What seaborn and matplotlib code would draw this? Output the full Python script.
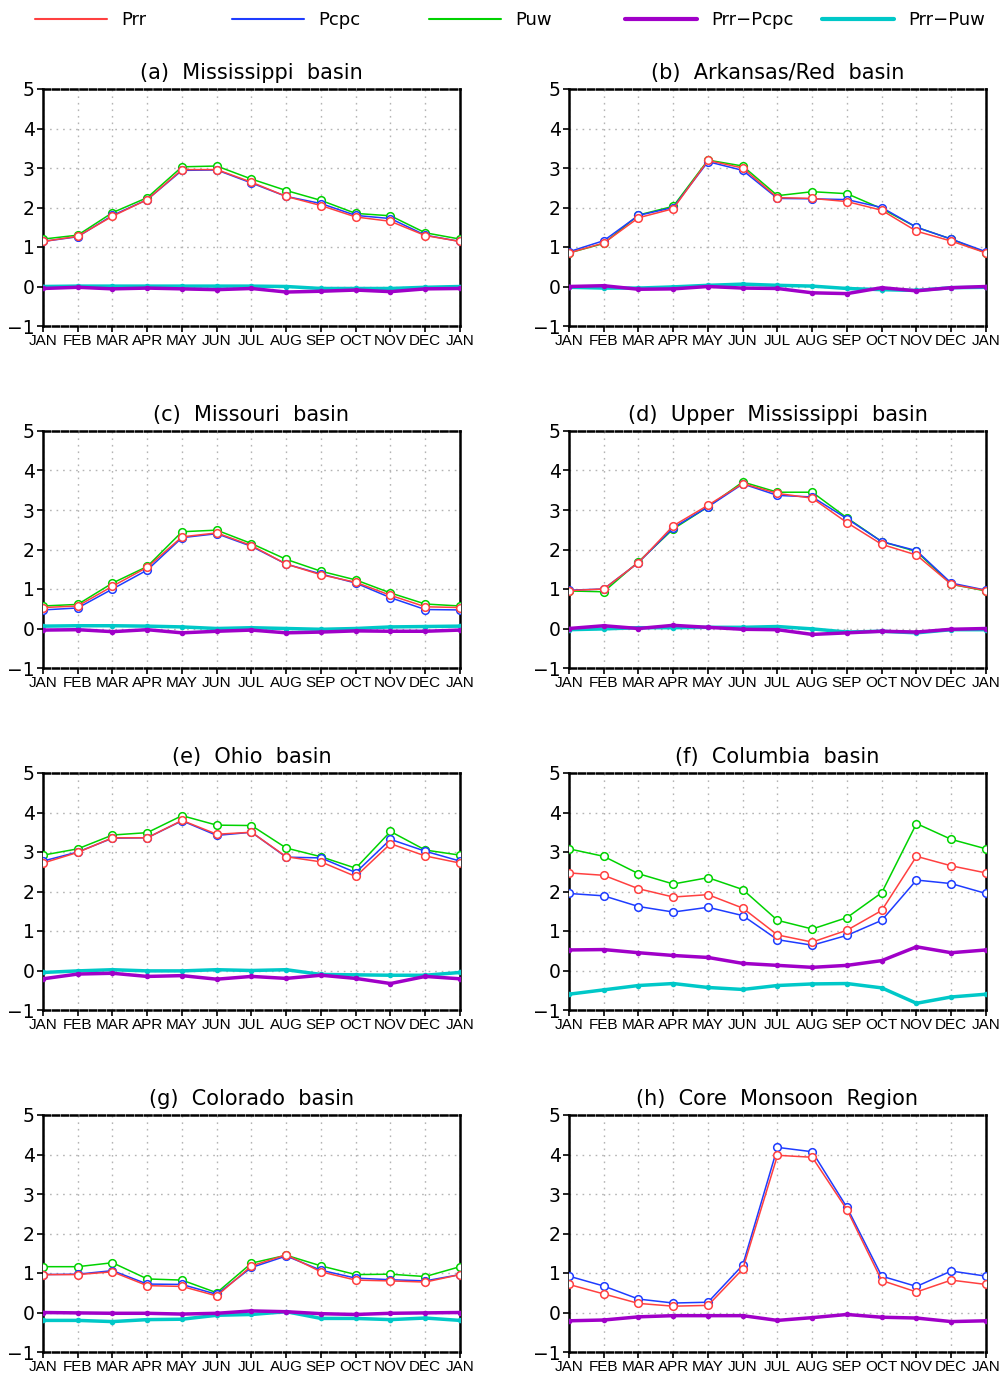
import numpy as np
import pandas as pd
import matplotlib
matplotlib.use("Agg")
import matplotlib.pyplot as plt
from matplotlib.lines import Line2D
import seaborn as sns

sns.set_style("white")
plt.rcParams['font.family'] = ['DejaVu Sans']
plt.rcParams['text.color'] = 'black'
plt.rcParams['xtick.color'] = 'black'
plt.rcParams['ytick.color'] = 'black'
plt.rcParams['axes.labelcolor'] = 'black'

months = ["JAN", "FEB", "MAR", "APR", "MAY", "JUN", "JUL", "AUG", "SEP", "OCT", "NOV", "DEC", "JAN"]

titles = ["(a)  Mississippi  basin", "(b)  Arkansas/Red  basin", "(c)  Missouri  basin",
          "(d)  Upper  Mississippi  basin", "(e)  Ohio  basin", "(f)  Columbia  basin",
          "(g)  Colorado  basin", "(h)  Core  Monsoon  Region"]

# (a) Mississippi
a_prr  = [1.14, 1.27, 1.78, 2.20, 2.96, 2.96, 2.64, 2.28, 2.05, 1.76, 1.65, 1.29, 1.14]
a_pcpc = [1.14, 1.26, 1.80, 2.20, 2.94, 2.95, 2.62, 2.28, 2.10, 1.80, 1.72, 1.30, 1.14]
a_puw  = [1.20, 1.30, 1.87, 2.25, 3.03, 3.05, 2.72, 2.43, 2.18, 1.85, 1.79, 1.36, 1.20]
a_dp   = [-0.05, -0.02, -0.06, -0.04, -0.06, -0.08, -0.05, -0.14, -0.12, -0.09, -0.13, -0.06, -0.05]
a_du   = [0.00, 0.01, 0.01, 0.01, 0.01, 0.01, 0.01, 0.00, -0.05, -0.05, -0.05, -0.02, 0.00]

# (b) Arkansas/Red
b_prr  = [0.85, 1.10, 1.74, 1.97, 3.19, 3.00, 2.25, 2.23, 2.15, 1.93, 1.40, 1.15, 0.85]
b_pcpc = [0.88, 1.16, 1.80, 2.00, 3.16, 2.94, 2.23, 2.22, 2.20, 2.00, 1.50, 1.20, 0.88]
b_puw  = [0.85, 1.09, 1.81, 2.03, 3.20, 3.05, 2.30, 2.40, 2.35, 1.97, 1.50, 1.20, 0.85]
b_dp   = [0.00, 0.02, -0.07, -0.06, 0.00, -0.04, -0.05, -0.16, -0.18, -0.03, -0.11, -0.03, 0.00]
b_du   = [-0.02, -0.04, -0.04, -0.01, 0.03, 0.06, 0.03, 0.01, -0.05, -0.08, -0.10, -0.03, -0.02]

# (c) Missouri
c_prr  = [0.53, 0.57, 1.07, 1.55, 2.32, 2.42, 2.10, 1.63, 1.36, 1.17, 0.84, 0.55, 0.53]
c_pcpc = [0.47, 0.52, 1.00, 1.48, 2.30, 2.40, 2.08, 1.63, 1.38, 1.15, 0.78, 0.48, 0.47]
c_puw  = [0.57, 0.61, 1.15, 1.57, 2.45, 2.49, 2.15, 1.75, 1.45, 1.23, 0.90, 0.62, 0.57]
c_dp   = [-0.04, -0.03, -0.08, -0.03, -0.11, -0.07, -0.04, -0.11, -0.09, -0.06, -0.07, -0.07, -0.04]
c_du   = [0.06, 0.07, 0.07, 0.06, 0.04, 0.00, 0.02, 0.00, -0.02, 0.00, 0.04, 0.05, 0.06]

# (d) Upper Mississippi
d_prr  = [0.96, 1.00, 1.67, 2.60, 3.12, 3.67, 3.42, 3.30, 2.68, 2.13, 1.86, 1.12, 0.96]
d_pcpc = [0.97, 1.00, 1.67, 2.55, 3.08, 3.66, 3.37, 3.33, 2.78, 2.20, 1.97, 1.15, 0.97]
d_puw  = [0.95, 0.93, 1.69, 2.52, 3.08, 3.71, 3.45, 3.45, 2.80, 2.20, 1.95, 1.12, 0.95]
d_dp   = [0.00, 0.07, 0.00, 0.08, 0.03, -0.02, -0.03, -0.15, -0.11, -0.07, -0.09, -0.02, 0.00]
d_du   = [-0.03, -0.01, 0.02, 0.02, 0.03, 0.03, 0.05, -0.01, -0.09, -0.07, -0.11, -0.03, -0.03]

# (e) Ohio
e_prr  = [2.72, 2.99, 3.36, 3.36, 3.80, 3.45, 3.50, 2.88, 2.75, 2.38, 3.21, 2.90, 2.72]
e_pcpc = [2.77, 3.00, 3.35, 3.36, 3.79, 3.42, 3.50, 2.87, 2.85, 2.48, 3.32, 3.02, 2.77]
e_puw  = [2.92, 3.08, 3.43, 3.49, 3.92, 3.68, 3.67, 3.10, 2.88, 2.59, 3.52, 3.05, 2.92]
e_dp   = [-0.21, -0.09, -0.07, -0.15, -0.13, -0.22, -0.15, -0.20, -0.12, -0.20, -0.33, -0.15, -0.21]
e_du   = [-0.05, -0.01, 0.02, -0.01, -0.01, 0.02, 0.00, 0.02, -0.10, -0.11, -0.12, -0.12, -0.05]

# (f) Columbia
f_prr  = [2.47, 2.41, 2.07, 1.86, 1.92, 1.58, 0.90, 0.72, 1.02, 1.52, 2.89, 2.65, 2.47]
f_pcpc = [1.95, 1.89, 1.62, 1.48, 1.60, 1.39, 0.78, 0.64, 0.89, 1.27, 2.29, 2.20, 1.95]
f_puw  = [3.08, 2.89, 2.45, 2.19, 2.35, 2.05, 1.27, 1.05, 1.34, 1.97, 3.72, 3.32, 3.08]
f_dp   = [0.52, 0.53, 0.45, 0.38, 0.33, 0.18, 0.13, 0.08, 0.13, 0.25, 0.60, 0.45, 0.52]
f_du   = [-0.60, -0.49, -0.38, -0.33, -0.43, -0.48, -0.38, -0.34, -0.33, -0.44, -0.83, -0.67, -0.60]

# (g) Colorado
g_prr  = [0.96, 0.96, 1.03, 0.68, 0.66, 0.42, 1.18, 1.46, 1.03, 0.82, 0.80, 0.77, 0.96]
g_pcpc = [0.96, 0.97, 1.06, 0.72, 0.71, 0.46, 1.14, 1.43, 1.07, 0.87, 0.83, 0.80, 0.96]
g_puw  = [1.16, 1.16, 1.26, 0.85, 0.82, 0.50, 1.25, 1.45, 1.18, 0.96, 0.97, 0.91, 1.16]
g_dp   = [0.00, -0.01, -0.02, -0.02, -0.04, -0.02, 0.04, 0.02, -0.03, -0.05, -0.02, -0.01, 0.00]
g_du   = [-0.20, -0.20, -0.23, -0.18, -0.17, -0.07, -0.05, 0.02, -0.15, -0.15, -0.18, -0.14, -0.20]

# (h) Core Monsoon Region (no Puw)
h_prr  = [0.71, 0.47, 0.23, 0.16, 0.18, 1.10, 3.98, 3.93, 2.60, 0.81, 0.52, 0.82, 0.71]
h_pcpc = [0.92, 0.67, 0.34, 0.24, 0.26, 1.20, 4.18, 4.07, 2.66, 0.92, 0.66, 1.05, 0.92]
h_dp   = [-0.21, -0.19, -0.11, -0.08, -0.08, -0.08, -0.20, -0.13, -0.05, -0.12, -0.14, -0.23, -0.21]

panels = [
    dict(prr=a_prr, pcpc=a_pcpc, puw=a_puw, dp=a_dp, du=a_du),
    dict(prr=b_prr, pcpc=b_pcpc, puw=b_puw, dp=b_dp, du=b_du),
    dict(prr=c_prr, pcpc=c_pcpc, puw=c_puw, dp=c_dp, du=c_du),
    dict(prr=d_prr, pcpc=d_pcpc, puw=d_puw, dp=d_dp, du=d_du),
    dict(prr=e_prr, pcpc=e_pcpc, puw=e_puw, dp=e_dp, du=e_du),
    dict(prr=f_prr, pcpc=f_pcpc, puw=f_puw, dp=f_dp, du=f_du),
    dict(prr=g_prr, pcpc=g_pcpc, puw=g_puw, dp=g_dp, du=g_du),
    dict(prr=h_prr, pcpc=h_pcpc, dp=h_dp),
]

COL = {"prr": "#ff4040", "pcpc": "#1e3cff", "puw": "#00d200",
       "dp": "#a000c8", "du": "#00c8c8"}
LABEL = {"prr": "Prr", "pcpc": "Pcpc", "puw": "Puw", "dp": "Prr\u2212Pcpc", "du": "Prr\u2212Puw"}

fig = plt.figure(figsize=(10.03, 13.76), dpi=100)
W, H = 1003.0, 1376.0
lefts = [43, 569]
tops = [89, 431, 773, 1115]
aw, ah = 417, 237

x = np.arange(len(months))
for i, p in enumerate(panels):
    r, c = divmod(i, 2)
    ax = fig.add_axes([lefts[c] / W, 1 - (tops[r] + ah) / H, aw / W, ah / H])
    ax.grid(True, color="#b4b4b4", linestyle=(0, (1.2, 3.5)), linewidth=1.0)
    ax.set_axisbelow(True)
    for key in ["du", "dp"]:
        if key in p:
            sns.lineplot(x=x, y=p[key], ax=ax, color=COL[key], linewidth=2.5,
                         marker="o", markersize=4, markeredgewidth=0,
                         markerfacecolor=COL[key], zorder=3)
    for key in ["puw", "pcpc", "prr"]:
        if key in p:
            sns.lineplot(x=x, y=p[key], ax=ax, color=COL[key], linewidth=1.1,
                         marker="o", markersize=5.5, markerfacecolor="white",
                         markeredgecolor=COL[key], markeredgewidth=1.1, zorder=4)
    ax.set_xlim(0, 12)
    ax.set_ylim(-1, 5)
    ax.set_xticks(x)
    ax.set_xticklabels(months, fontfamily=["Liberation Sans", "DejaVu Sans"], fontsize=11)
    ax.set_yticks(range(-1, 6))
    ax.set_yticklabels(["\u22121", "0", "1", "2", "3", "4", "5"], fontsize=13.5)
    ax.tick_params(axis="both", direction="out", length=4, width=1.2, color="black",
                   pad=2, bottom=True, left=True)
    for s in ["left", "right", "top", "bottom"]:
        ax.spines[s].set_linewidth(1.8)
        ax.spines[s].set_color("black")
    for s in ["top", "bottom"]:
        ax.spines[s].set_linestyle((0, (2.5, 1.2)))
    ax.set_xlabel("")
    ax.set_ylabel("")
    ax.set_title(titles[i], fontsize=15, pad=7, color="black")

starts = [35, 232, 429, 625, 822]
for key, sx in zip(["prr", "pcpc", "puw", "dp", "du"], starts):
    lw = 3.0 if key in ("dp", "du") else 1.5
    h = Line2D([], [], color=COL[key], linewidth=lw)
    fig.legend(handles=[h], labels=[LABEL[key]], loc="center left",
               bbox_to_anchor=(sx / W, 1 - 20 / H), frameon=False,
               handlelength=4.0, handletextpad=0.75, borderpad=0,
               borderaxespad=0, fontsize=13)

fig.savefig("out.png", dpi=100)
